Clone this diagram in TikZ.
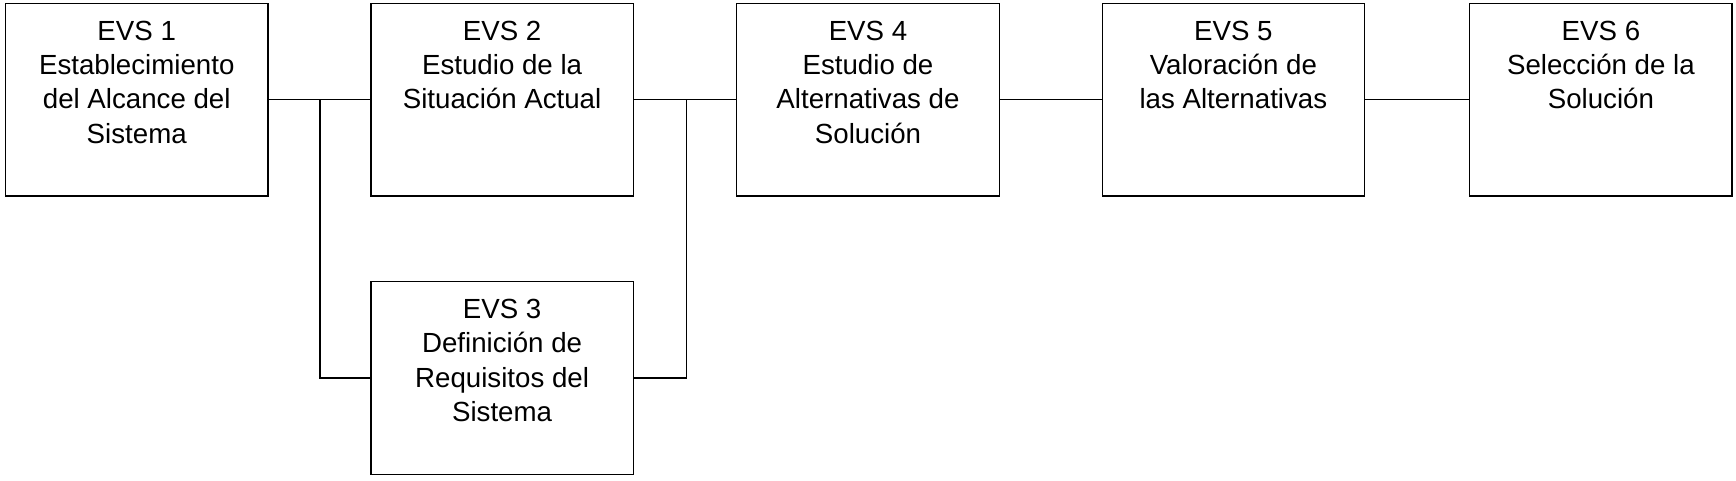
\documentclass[tikz,border=0pt]{standalone}
\usepackage{fontspec}
\setmainfont{Liberation Sans}
\begin{document}
\begin{tikzpicture}[x=1pt,y=1pt,
  box/.style={draw,line width=0.6pt,minimum width=118.5pt,minimum height=87pt,inner sep=0pt},
  lbl/.style={anchor=north,align=center,inner sep=0pt,font=\fontsize{12.5}{15.5}\selectfont},
  conn/.style={line width=0.6pt}]
\useasboundingbox (0,0) rectangle (784,-217);
\node[box] (b1) at (61.75,-45) {};
\node[box] (b2) at (226.75,-45) {};
\node[box] (b3) at (226.75,-170.75) {};
\node[box] (b4) at (392,-45) {};
\node[box] (b5) at (557,-45) {};
\node[box] (b6) at (723,-45) {};
\node[lbl] (t1) at ([yshift=-8pt]b1.north) {EVS 1\\Establecimiento\\del Alcance del\\Sistema};
\node[lbl] (t2) at ([yshift=-8pt]b2.north) {EVS 2\\Estudio de la\\Situación Actual};
\node[lbl] (t3) at ([yshift=-8pt]b3.north) {EVS 3\\Definición de\\Requisitos del\\Sistema};
\node[lbl] (t4) at ([yshift=-8pt]b4.north) {EVS 4\\Estudio de\\Alternativas de\\Solución};
\node[lbl] (t5) at ([yshift=-8pt]b5.north) {EVS 5\\Valoración de\\las Alternativas};
\node[lbl] (t6) at ([yshift=-8pt]b6.north) {EVS 6\\Selección de la\\Solución};
\coordinate (j1) at (144.5,-45);
\coordinate (j2) at (310,-45);
\draw[conn] (b1.east) -- (b2.west);
\draw[conn] (j1) |- (b3.west);
\draw[conn] (b2.east) -- (b4.west);
\draw[conn] (b3.east) -| (j2);
\draw[conn] (b4.east) -- (b5.west);
\draw[conn] (b5.east) -- (b6.west);
\end{tikzpicture}
\end{document}
